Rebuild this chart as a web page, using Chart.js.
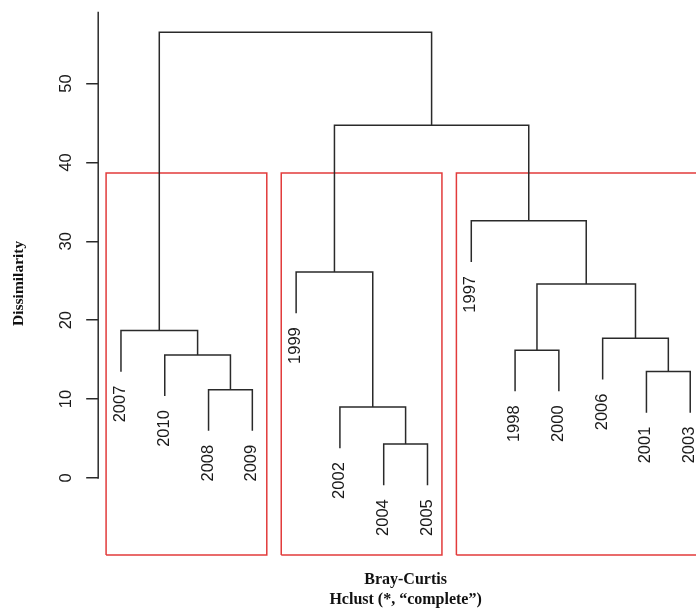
<!DOCTYPE html>
<html>
<head>
<meta charset="utf-8">
<script src="https://cdn.jsdelivr.net/npm/chart.js@4"></script>
<style>
  html, body { margin: 0; padding: 0; background: #fff; overflow: hidden; }
  #wrap { width: 696px; height: 611px; overflow: hidden; }
  #c { display: block; }
</style>
</head>
<body>
<div id="wrap"><canvas id="c" width="713" height="611"></canvas></div>
<script>
// Leaves in plotting order, left to right
const leafOrder = ['2007', '2010', '2008', '2009', '1999', '2002', '2004', '2005',
                   '1997', '1998', '2000', '2006', '2001', '2003'];
// Agglomeration steps: a string is a leaf, a number points to an earlier step (1-based)
const mergeLeft   = ['2004', '2002', '2008', '2001', '2010', '1998', '2006', '2007', 6, '1999', '1997', 10, 8];
const mergeRight  = ['2005', 1, '2009', '2003', 3, '2000', 4, 5, 7, 2, 9, 11, 12];
const mergeHeight = [4.3, 9.0, 11.2, 13.5, 15.6, 16.2, 17.7, 18.7, 24.6, 26.1, 32.6, 44.7, 56.5];
const yTickValues = [0, 10, 20, 30, 40, 50];
const clusterCount = 3;
const yAxisTitle = 'Dissimilarity';
const xAxisTitle = ['Bray-Curtis', 'Hclust (*, \u201ccomplete\u201d)'];

// Plot range
const yMin = -9.76;
const yMax = 59.1;

const TREE_COLOR = '#2a2a2a';
const BOX_COLOR = '#e23b3b';
const LABEL_FONT = '16.5px "Liberation Sans", Arial, sans-serif';

// ---- dendrogram layout ----
const n = leafOrder.length;
const hang = 0.1 * (Math.max(...mergeHeight) - Math.min(...mergeHeight));
const leafX = {};
leafOrder.forEach((name, i) => { leafX[name] = i + 1; });
const leafBottom = {};

const stepX = [];
function nodeX(ref) {
  return typeof ref === 'string' ? leafX[ref] : stepX[ref - 1];
}
const treeDatasets = [];
mergeHeight.forEach((h, i) => {
  const l = mergeLeft[i], r = mergeRight[i];
  const xl = nodeX(l), xr = nodeX(r);
  const yl = typeof l === 'string' ? h - hang : mergeHeight[l - 1];
  const yr = typeof r === 'string' ? h - hang : mergeHeight[r - 1];
  if (typeof l === 'string') leafBottom[l] = yl;
  if (typeof r === 'string') leafBottom[r] = yr;
  stepX[i] = (xl + xr) / 2;
  treeDatasets.push({
    data: [{ x: xl, y: yl }, { x: xl, y: h }, { x: xr, y: h }, { x: xr, y: yr }],
    borderColor: TREE_COLOR,
    borderWidth: 1.5,
    showLine: true,
    pointRadius: 0,
    tension: 0,
    clip: false,
    borderCapStyle: 'butt',
    borderJoinStyle: 'miter'
  });
});

// ---- cluster rectangles (cut into clusterCount groups) ----
const sortedH = [...mergeHeight].sort((a, b) => a - b);
const cutHeight = (sortedH[n - clusterCount] + sortedH[n - clusterCount - 1]) / 2;
const cutSteps = new Set();
for (let i = 0; i < clusterCount - 1; i++) cutSteps.add(n - 1 - i);
function leavesOf(ref) {
  if (typeof ref === 'string') return [ref];
  return leavesOf(mergeLeft[ref - 1]).concat(leavesOf(mergeRight[ref - 1]));
}
function groupRoots(ref) {
  if (typeof ref === 'number' && cutSteps.has(ref)) {
    return groupRoots(mergeLeft[ref - 1]).concat(groupRoots(mergeRight[ref - 1]));
  }
  return [ref];
}
const groups = groupRoots(n - 1).map(leavesOf);
const boxDatasets = groups.map(g => {
  const xs = g.map(name => leafX[name]);
  const x0 = Math.min(...xs) - 1 + 0.66;
  const x1 = Math.max(...xs) + 0.33;
  return {
    data: [{ x: x0, y: yMin }, { x: x0, y: cutHeight }, { x: x1, y: cutHeight },
           { x: x1, y: yMin }, { x: x0, y: yMin }],
    borderColor: BOX_COLOR,
    borderWidth: 1.5,
    showLine: true,
    pointRadius: 0,
    tension: 0,
    clip: false
  };
});

// Leaf labels hang below the end of each leaf line, rotated
const leafLabelPlugin = {
  id: 'leafLabels',
  afterDatasetsDraw(chart) {
    const { ctx, scales: { x, y } } = chart;
    ctx.save();
    ctx.font = LABEL_FONT;
    ctx.fillStyle = '#1a1a1a';
    ctx.textAlign = 'right';
    ctx.textBaseline = 'middle';
    leafOrder.forEach(name => {
      const px = x.getPixelForValue(leafX[name]) - 0.5;
      const py = y.getPixelForValue(leafBottom[name]) + 14;
      ctx.save();
      ctx.translate(px, py);
      ctx.rotate(-Math.PI / 2);
      ctx.fillText(name, 0, 0);
      ctx.restore();
    });
    ctx.restore();
  }
};

// Y axis line runs from the first tick up to the top of the plot
const axisLinePlugin = {
  id: 'axisLine',
  afterDraw(chart) {
    const { ctx, scales: { y } } = chart;
    const xp = y.right;
    ctx.save();
    ctx.strokeStyle = TREE_COLOR;
    ctx.lineWidth = 1.5;
    ctx.beginPath();
    ctx.moveTo(xp, y.getPixelForValue(yTickValues[0]) + 0.75);
    ctx.lineTo(xp, y.top);
    ctx.stroke();
    ctx.restore();
  }
};

new Chart(document.getElementById('c'), {
  type: 'scatter',
  data: { datasets: [...treeDatasets, ...boxDatasets] },
  plugins: [leafLabelPlugin, axisLinePlugin],
  options: {
    responsive: false,
    animation: false,
    events: [],
    layout: { padding: { top: 11.7, right: 0, bottom: 0, left: 0 } },
    plugins: { legend: { display: false }, tooltip: { enabled: false } },
    scales: {
      x: {
        type: 'linear',
        min: 1 - 0.04 * (n - 1),
        max: n + 0.04 * (n - 1),
        grid: { display: false },
        border: { display: false },
        ticks: { display: false },
        title: {
          display: true,
          text: xAxisTitle,
          color: '#111',
          font: { family: '"Liberation Serif", "Times New Roman", serif', size: 16, weight: 'bold', lineHeight: 1.25 },
          padding: { top: 0, bottom: 1 }
        },
        afterFit(s) { s.height = 56; s.paddingLeft = 0; s.paddingRight = 0; }
      },
      y: {
        type: 'linear',
        min: yMin,
        max: yMax,
        afterBuildTicks(s) { s.ticks = yTickValues.map(v => ({ value: v })); },
        grid: { drawOnChartArea: false, drawTicks: true, tickLength: 12, color: TREE_COLOR, lineWidth: 1.5 },
        border: { display: false },
        ticks: {
          minRotation: 90,
          maxRotation: 90,
          crossAlign: 'center',
          padding: 10.6,
          color: '#1a1a1a',
          font: { family: '"Liberation Sans", Arial, sans-serif', size: 16.5 }
        },
        title: {
          display: true,
          text: yAxisTitle,
          color: '#111',
          font: { family: '"Liberation Serif", "Times New Roman", serif', size: 15.5, weight: 'bold' },
          padding: { top: 9.5, bottom: 0 }
        },
        afterFit(s) { s.width = 98.2; s.paddingTop = 0; s.paddingBottom = 0; }
      }
    }
  }
});
</script>
</body>
</html>
